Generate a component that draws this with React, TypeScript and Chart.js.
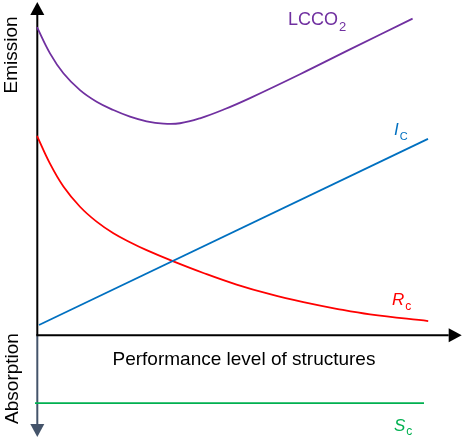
import React, { useEffect, useRef } from "react";
import { Chart, registerables } from "chart.js";

Chart.register(...registerables);

// Performance level of structures (0 = lowest) vs. carbon emission (+) / absorption (−)
const lccoX = [0, 3.25, 6.6, 10.75, 14.9, 19.1, 23.25, 27.4, 31.6, 35.75, 40.75, 47, 53.25, 65.75, 78.25, 93.9];
const lccoY = [92.7, 84.8, 78.8, 73.7, 70.2, 67.7, 65.7, 64.3, 63.6, 63.7, 65.2, 68.0, 71.3, 78.5, 86.0, 95.3];

const rcX = [0, 3.25, 6.6, 10.75, 14.9, 19.1, 23.25, 27.4, 34.1, 41.6, 49.9, 58.25, 66.6, 74.9, 83.25, 97.8];
const rcY = [59.9, 51.5, 44.6, 38.5, 34.0, 30.5, 27.8, 25.4, 22.0, 18.5, 15.0, 12.1, 9.7, 7.7, 6.0, 4.0];

const icX = [0.5, 97.75];
const icY = [2.8, 59.0];

const scX = [-0.5, 96.75];
const scY = [-20.8, -20.8];

const X_MAX = 106;
const Y_MIN = -31;
const Y_MAX = 100;

const PURPLE = "#7030A0";
const RED = "#FF0000";
const BLUE = "#0070C0";
const GREEN = "#00B050";
const SLATE = "#44546A";
const FONT = "'Liberation Sans', Arial, sans-serif";

type SeriesLabel = {
  main: string;
  sub: string;
  italic: boolean;
  color: string;
  x: number;
  y: number;
  mainSize: number;
  subSize: number;
  subDrop: number;
};

const seriesLabels: SeriesLabel[] = [
  { main: "LCCO", sub: "2", italic: false, color: PURPLE, x: 62.75, y: 93.4, mainSize: 18, subSize: 13, subDrop: 6 },
  { main: "I", sub: "C", italic: true, color: BLUE, x: 89.25, y: 60.2, mainSize: 17, subSize: 11, subDrop: 5.5 },
  { main: "R", sub: "c", italic: true, color: RED, x: 88.75, y: 8.85, mainSize: 17, subSize: 12, subDrop: 5 },
  { main: "S", sub: "c", italic: true, color: GREEN, x: 89.25, y: -29.2, mainSize: 17, subSize: 12, subDrop: 4 },
];

const toPoints = (xs: number[], ys: number[]) => xs.map((x, i) => ({ x, y: ys[i] }));

const axesPlugin = {
  id: "arrowAxes",
  beforeDatasetsDraw(chart: any) {
    const { ctx, chartArea, scales } = chart;
    const xs = scales.x;
    const ys = scales.y;
    const ox = xs.getPixelForValue(0) + 0.3;
    const oy = ys.getPixelForValue(0) + 1;
    const top = chartArea.top - 1;
    const bottom = chartArea.bottom;
    const right = xs.getPixelForValue(X_MAX) + 0.7;
    const head = 13;
    const half = 7;
    ctx.save();
    ctx.lineWidth = 2;
    // emission (upward) axis
    ctx.strokeStyle = "#000";
    ctx.beginPath();
    ctx.moveTo(ox, oy);
    ctx.lineTo(ox, top + head);
    ctx.stroke();
    ctx.fillStyle = "#000";
    ctx.beginPath();
    ctx.moveTo(ox, top);
    ctx.lineTo(ox - half, top + head);
    ctx.lineTo(ox + half, top + head);
    ctx.closePath();
    ctx.fill();
    // absorption (downward) axis
    ctx.strokeStyle = SLATE;
    ctx.beginPath();
    ctx.moveTo(ox, oy);
    ctx.lineTo(ox, bottom - head);
    ctx.stroke();
    ctx.fillStyle = SLATE;
    ctx.beginPath();
    ctx.moveTo(ox, bottom);
    ctx.lineTo(ox - half, bottom - head);
    ctx.lineTo(ox + half, bottom - head);
    ctx.closePath();
    ctx.fill();
    // performance axis
    ctx.strokeStyle = "#000";
    ctx.beginPath();
    ctx.moveTo(ox - 1, oy);
    ctx.lineTo(right - head, oy);
    ctx.stroke();
    ctx.fillStyle = "#000";
    ctx.beginPath();
    ctx.moveTo(right, oy);
    ctx.lineTo(right - head, oy - half);
    ctx.lineTo(right - head, oy + half);
    ctx.closePath();
    ctx.fill();
    ctx.restore();
  },
  afterDatasetsDraw(chart: any) {
    const { ctx, scales } = chart;
    const xs = scales.x;
    const ys = scales.y;
    const oy = ys.getPixelForValue(0);
    ctx.save();
    ctx.textBaseline = "alphabetic";
    ctx.textAlign = "left";
    ctx.fillStyle = "#000";
    ctx.font = `19px ${FONT}`;
    ctx.fillText("Performance level of structures", 112.5, oy + 30.5);

    // vertical axis titles
    ctx.textAlign = "center";
    ctx.save();
    ctx.translate(17, 55);
    ctx.rotate(-Math.PI / 2);
    ctx.fillText("Emission", 0, 0);
    ctx.restore();
    ctx.save();
    ctx.translate(18, 378.5);
    ctx.rotate(-Math.PI / 2);
    ctx.fillText("Absorption", 0, 0);
    ctx.restore();

    // series names with subscripts
    ctx.textAlign = "left";
    for (const lab of seriesLabels) {
      const px = xs.getPixelForValue(lab.x);
      const py = ys.getPixelForValue(lab.y);
      ctx.fillStyle = lab.color;
      ctx.font = `${lab.italic ? "italic " : ""}${lab.mainSize}px ${FONT}`;
      ctx.fillText(lab.main, px, py);
      const w = ctx.measureText(lab.main).width;
      ctx.font = `${lab.subSize}px ${FONT}`;
      ctx.fillText(lab.sub, px + w + 1, py + lab.subDrop);
    }
    ctx.restore();
  },
};

export default function App() {
  const canvasRef = useRef<HTMLCanvasElement | null>(null);

  useEffect(() => {
    if (!canvasRef.current) return;
    const line = (data: { x: number; y: number }[], color: string, smooth: boolean) => ({
      data,
      borderColor: color,
      backgroundColor: color,
      borderWidth: 1.8,
      pointRadius: 0,
      fill: false,
      tension: smooth ? 0.4 : 0,
    });
    const chart = new Chart(canvasRef.current, {
      type: "line",
      data: {
        datasets: [
          { label: "LCCO2", ...line(toPoints(lccoX, lccoY), PURPLE, true) },
          { label: "Ic", ...line(toPoints(icX, icY), BLUE, false) },
          { label: "Rc", ...line(toPoints(rcX, rcY), RED, true) },
          { label: "Sc", ...line(toPoints(scX, scY), GREEN, false) },
        ],
      },
      options: {
        responsive: false,
        animation: false,
        events: [],
        layout: { padding: { left: 37, top: 3, right: 1, bottom: 6 } },
        scales: {
          x: { type: "linear", min: 0, max: X_MAX, display: false },
          y: { type: "linear", min: Y_MIN, max: Y_MAX, display: false },
        },
        plugins: {
          legend: { display: false },
          tooltip: { enabled: false },
        },
        clip: false as any,
      },
      plugins: [axesPlugin],
    });
    return () => chart.destroy();
  }, []);

  return (
    <div style={{ position: "absolute", left: 0, top: 0, width: 462, height: 443, background: "#fff" }}>
      <canvas ref={canvasRef} width={462} height={443} style={{ display: "block" }} />
    </div>
  );
}
